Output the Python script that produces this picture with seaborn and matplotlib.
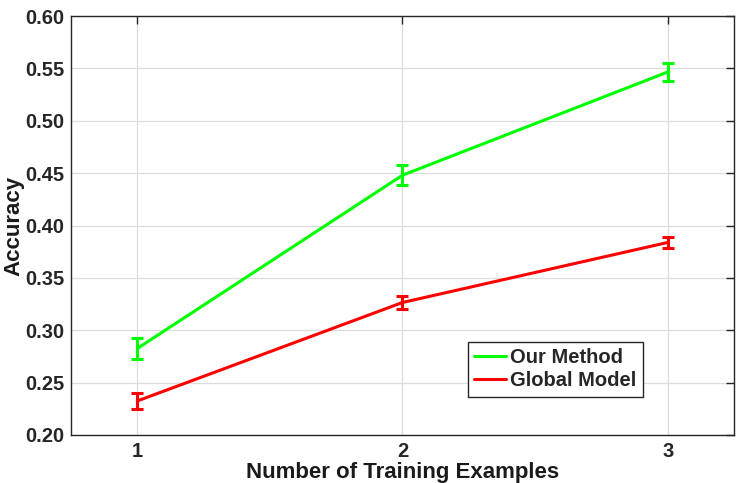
import matplotlib
matplotlib.use("Agg")
import matplotlib.pyplot as plt
import seaborn as sns
import pandas as pd

x_vals = [1, 2, 3]
our_method = [0.2826, 0.4480, 0.5465]
our_err = [0.0100, 0.0095, 0.0085]
global_model = [0.2325, 0.3265, 0.3838]
global_err = [0.0076, 0.0062, 0.0052]
series_names = ["Our Method", "Global Model"]
colors = ["#00ff00", "#ff0000"]
yticks = [0.20, 0.25, 0.30, 0.35, 0.40, 0.45, 0.50, 0.55, 0.60]

sns.set_theme(style="whitegrid")
plt.rcParams['font.family'] = ['Liberation Sans', 'DejaVu Sans']
plt.rcParams['font.weight'] = 'bold'

df = pd.DataFrame({
    "x": x_vals * 2,
    "y": our_method + global_model,
    "series": [series_names[0]] * 3 + [series_names[1]] * 3,
})

fig = plt.figure(figsize=(7.44, 4.83), dpi=100)
ax = fig.add_axes([71 / 744, 1 - 435 / 483, (734 - 71) / 744, (435 - 16) / 483])

sns.lineplot(data=df, x="x", y="y", hue="series", palette=colors, ax=ax,
             linewidth=2.2, legend=True)
for vals, errs, c in [(our_method, our_err, colors[0]), (global_model, global_err, colors[1])]:
    ax.errorbar(x_vals, vals, yerr=errs, fmt='none', ecolor=c, elinewidth=2.2,
                capsize=4.5, capthick=2.2)

ax.set_xlim(0.75, 3.25)
ax.set_ylim(0.20, 0.60)
ax.set_xticks(x_vals)
ax.set_yticks(yticks)
ax.set_yticklabels([f"{t:.2f}" for t in yticks])
ax.set_xlabel("Number of Training Examples", fontsize=16, fontweight='bold', color='#1a1a1a', labelpad=1)
ax.set_ylabel("Accuracy", fontsize=16, fontweight='bold', color='#1a1a1a', labelpad=0)

ax.set_facecolor('white')
ax.grid(True, color='#dcdcdc', linewidth=0.9)
for s in ax.spines.values():
    s.set_visible(True)
    s.set_color('#262626')
    s.set_linewidth(1.0)
ax.tick_params(direction='in', length=6, width=1, color='#262626', top=True, right=True,
               labelsize=14.5, labelcolor='#262626', pad=5)
for lab in ax.get_xticklabels() + ax.get_yticklabels():
    lab.set_fontweight('bold')

handles, labels = ax.get_legend_handles_labels()
leg = ax.legend(handles, labels, loc='upper left',
                bbox_to_anchor=((468 - 71) / 663, 1 - (342 - 16) / 419),
                frameon=True, fancybox=False, edgecolor='#262626', framealpha=1,
                prop={'weight': 'bold', 'size': 14.5}, handlelength=1.6,
                handletextpad=0.2, borderpad=0.3, labelspacing=0.22,
                borderaxespad=0)
leg.get_frame().set_linewidth(1.0)
for line in leg.get_lines():
    line.set_linewidth(2.2)

fig.savefig("out.png", dpi=100)
